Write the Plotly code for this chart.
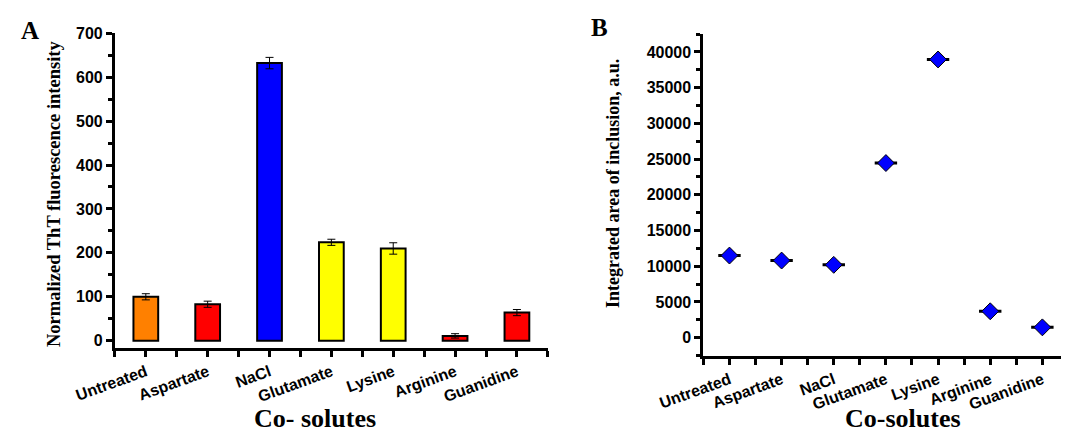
import plotly.graph_objects as go

categories = ["Untreated", "Aspartate", "NaCl", "Glutamate", "Lysine", "Arginine", "Guanidine"]
tht_values = [100, 83, 632, 224, 210, 11, 64]
tht_errors = [7, 7, 13, 7, 13, 5, 7]
bar_colors = ["#FF8000", "#FF0000", "#0000FF", "#FFFF00", "#FFFF00", "#FF0000", "#FF0000"]
area_values = [11500, 10800, 10200, 24450, 38950, 3700, 1450]
tht_ticks = [0, 100, 200, 300, 400, 500, 600, 700]
area_ticks = [0, 5000, 10000, 15000, 20000, 25000, 30000, 35000, 40000]

xpos = list(range(len(categories)))
minor_pos = [i + 0.5 for i in range(-1, len(categories))]

fig = go.Figure()

fig.add_trace(go.Bar(
    x=xpos, y=tht_values, width=0.4,
    marker=dict(color=bar_colors, line=dict(color="black", width=2)),
    error_y=dict(type="data", array=tht_errors, color="black", thickness=1, width=4),
    xaxis="x", yaxis="y", showlegend=False,
))

fig.add_trace(go.Scatter(
    x=xpos, y=area_values, mode="markers",
    marker=dict(symbol="line-ew", size=16, line=dict(color="black", width=3)),
    xaxis="x2", yaxis="y2", showlegend=False, hoverinfo="skip",
))
fig.add_trace(go.Scatter(
    x=xpos, y=area_values, mode="markers",
    marker=dict(symbol="diamond", size=13, color="#0000FF", line=dict(color="black", width=1)),
    xaxis="x2", yaxis="y2", showlegend=False,
))

tickfont = dict(family="Liberation Sans, Arial", size=16, color="black", weight="bold")
axis_common = dict(
    showline=True, linecolor="black", linewidth=3, ticks="outside",
    ticklen=6, tickwidth=3, tickcolor="black", showgrid=False, zeroline=False,
    tickfont=tickfont, automargin=False,
)

fig.update_layout(
    width=1069, height=435,
    margin=dict(l=0, r=0, t=0, b=0),
    paper_bgcolor="white", plot_bgcolor="white",
    xaxis=dict(domain=[0.1, 0.505], anchor="y", range=[-0.5, 6.5],
               tickvals=xpos, ticktext=categories, tickangle=-20,
               minor=dict(tickvals=minor_pos, ticks="outside", ticklen=6, tickwidth=3, tickcolor="black"),
               **axis_common),
    yaxis=dict(domain=[0.219, 0.942], anchor="x", range=[-16, 700],
               tickvals=tht_ticks, ticktext=[str(v) for v in tht_ticks],
               minor=dict(tickvals=[v + 50 for v in tht_ticks[:-1]], ticks="outside", ticklen=4, tickwidth=3, tickcolor="black"),
               **axis_common),
    xaxis2=dict(domain=[0.6505, 0.992], anchor="y2", range=[-0.5, 6.5],
                tickvals=xpos, ticktext=categories, tickangle=-20,
                minor=dict(tickvals=minor_pos, ticks="outside", ticklen=6, tickwidth=3, tickcolor="black"),
                **axis_common),
    yaxis2=dict(domain=[0.201, 0.94], anchor="x2", range=[-2500, 42500],
                tickvals=area_ticks, ticktext=[str(v) for v in area_ticks],
                minor=dict(tickvals=[v - 2500 for v in area_ticks] + [42500], ticks="outside", ticklen=4, tickwidth=3, tickcolor="black"),
                **axis_common),
)

serif = "Liberation Serif, Times New Roman"
anns = [
    dict(text="<b>A</b>", x=22, y=22, size=25),
    dict(text="<b>B</b>", x=591, y=19, size=25),
    dict(text="<b>Co- solutes</b>", x=307, y=410, size=26),
    dict(text="<b>Co-solutes</b>", x=895, y=410, size=26),
    dict(text="<b>Normalized ThT fluorescence intensity</b>", x=46, y=186, size=18.5, angle=-90),
    dict(text="<b>Integrated area of inclusion, a.u.</b>", x=605, y=176, size=18, angle=-90),
]
for a in anns:
    fig.add_annotation(
        text=a["text"], x=a["x"] / 1069, y=1 - a["y"] / 435, xref="paper", yref="paper",
        xanchor="center", yanchor="middle", showarrow=False, textangle=a.get("angle", 0),
        font=dict(family=serif, size=a["size"], color="black"),
    )

fig.write_html("out.html")
